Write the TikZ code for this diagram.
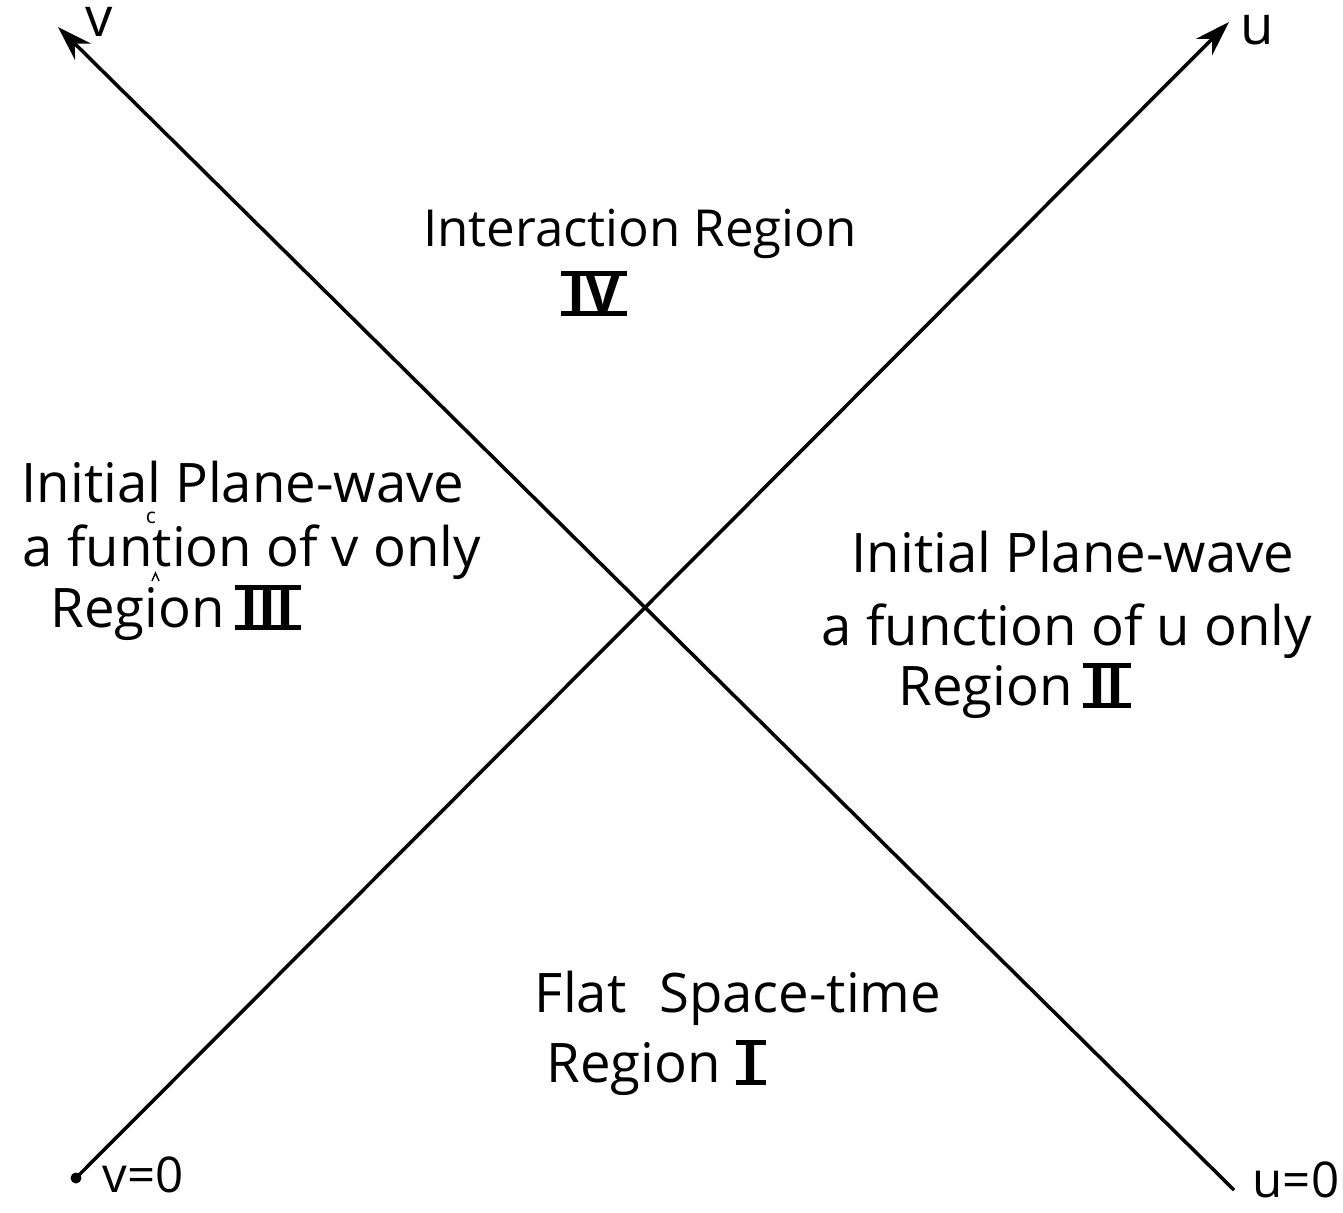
\documentclass[tikz,border=0pt]{standalone}
\usepackage{fontspec}
\setmainfont{Open Sans}
\usetikzlibrary{arrows.meta}
\begin{document}
\begin{tikzpicture}[x=0.01cm,y=-0.01cm,>={Stealth[length=10pt,width=6.5pt]},
  lbl/.style={font=\fontsize{15.5}{18}\selectfont,inner sep=0pt},
  numr/.style={lbl,font=\fontsize{15.5}{18}\selectfont\bfseries,anchor=base west}]
  \useasboundingbox (0,0) rectangle (1343,1213);
  % axes
  \coordinate (vtip) at (58,27);
  \coordinate (vend) at (1234,1190);
  \coordinate (utip) at (1229,22);
  \coordinate (ustart) at (76,1178);
  \draw[line width=1pt,->] (vend) -- (vtip);
  \draw[line width=1pt,->] (ustart) -- (utip);
  \fill (ustart) circle (5.5);
  \node[lbl] (vlab) at (99,22) {v};
  \node[lbl] (ulab) at (1257,30) {u};
  \node[lbl,font=\fontsize{14}{16}\selectfont,anchor=base west] (vzero) at (102,1192) {v=0};
  \node[lbl,font=\fontsize{14}{16}\selectfont,anchor=base west] (uzero) at (1252,1197) {u=0};
  % region IV
  \node[lbl,font=\fontsize{14.5}{17}\selectfont,anchor=base] (intreg) at (640,247) {Interaction Region};
  \node[numr,anchor=base] (rfour) at (594,313) {IV};
  % region III
  \node[lbl,anchor=base] (lwave) at (243,503) {Initial Plane-wave};
  \node[lbl,anchor=base] (lfunc) at (252,567) {a funtion of v only};
  \node[font=\fontsize{6}{7}\selectfont,inner sep=0pt] (lins) at (151,518) {c};
  \draw[line width=0.4pt] (152,581) -- (155.5,573) -- (159,581);
  \node[lbl,anchor=base west] (lreg) at (50,627) {Region};
  \node[numr] (rthree) at (240,627) {III};
  % region II
  \node[lbl,anchor=base] (rwave) at (1073,572) {Initial Plane-wave};
  \node[lbl,anchor=base] (rfunc) at (1067,645) {a function of u only};
  \node[lbl,anchor=base west] (rreg) at (898,705) {Region};
  \node[numr] (rtwo) at (1088,705) {II};
  % region I
  \node[lbl,anchor=base] (flat) at (738,1012) {Flat\hspace{0.6em}Space-time};
  \node[lbl,anchor=base west] (rreg1) at (546,1082) {Region};
  \node[numr] (rone) at (741,1082) {I};
  % bars of the numerals
  \foreach \n in {rfour,rthree,rtwo,rone}
    \draw[line width=1.3pt] ([xshift=-1.5pt]\n.north west) -- ([xshift=1.5pt]\n.north east)
      ([xshift=-1.5pt]\n.south west) -- ([xshift=1.5pt]\n.south east);
\end{tikzpicture}
\end{document}
